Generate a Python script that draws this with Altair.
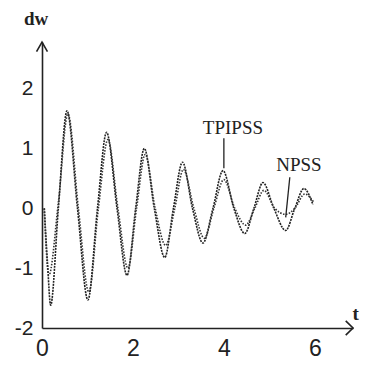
import altair as alt
import pandas as pd

# TPIPSS curve (key points)
t_a = [0.05, 0.12, 0.19, 0.36, 0.55, 0.78, 1.01, 1.22, 1.42, 1.65, 1.87, 2.06, 2.25, 2.47, 2.70, 2.89,
       3.09, 3.31, 3.54, 3.76, 3.98, 4.22, 4.46, 4.66, 4.86, 5.10, 5.36, 5.56, 5.76, 5.96]
y_a = [0.0, -0.9, -1.62, 0.0, 1.63, 0.0, -1.53, 0.0, 1.27, 0.0, -1.12, 0.0, 1.0, 0.0, -0.82, 0.0,
       0.77, 0.0, -0.58, 0.0, 0.63, 0.0, -0.42, 0.0, 0.43, 0.0, -0.37, 0.0, 0.33, 0.06]
# NPSS curve
t_b = [0.05, 0.15, 0.36, 0.57, 0.80, 1.03, 1.24, 1.45, 1.67, 1.89, 2.08, 2.27, 2.49, 2.72, 2.92,
       3.11, 3.34, 3.57, 3.78, 4.00, 4.24, 4.48, 4.68, 4.88, 5.12, 5.36, 5.56, 5.78, 5.98]
y_b = [0.0, -1.12, 0.1, 1.58, 0.0, -1.40, 0.0, 1.15, 0.0, -1.0, 0.0, 0.90, 0.0, -0.62, 0.0,
       0.65, 0.0, -0.50, 0.0, 0.48, 0.0, -0.28, 0.0, 0.30, 0.0, -0.10, 0.0, 0.24, 0.10]

x_ticks = [0, 2, 4, 6]
y_ticks = [-2, -1, 0, 1, 2]
x_max = 6.84
y_min, y_max = -2, 2.78

labels = ["TPIPSS", "NPSS"]
label_t = [4.2, 5.65]
label_y = [1.25, 0.63]
ptr_t1 = [4.0, 5.45]
ptr_y1 = [1.17, 0.52]
ptr_t2 = [4.0, 5.36]
ptr_y2 = [0.67, -0.15]

df_a = pd.DataFrame({"t": t_a, "y": y_a})
df_b = pd.DataFrame({"t": t_b, "y": y_b})
df_lab = pd.DataFrame({"label": labels, "t": label_t, "y": label_y})
df_ptr = pd.DataFrame({"t": ptr_t1, "y": ptr_y1, "t2": ptr_t2, "y2": ptr_y2})

# axis arrows as polylines: x arrow head, y arrow head
arr_grp = ["x", "x", "x", "y", "y", "y"]
arr_ord = [0, 1, 2, 0, 1, 2]
arr_t = [x_max - 0.16, x_max, x_max - 0.16, -0.12, 0.0, 0.12]
arr_y = [y_min + 0.12, y_min, y_min - 0.12, y_max - 0.16, y_max, y_max - 0.16]
df_arr = pd.DataFrame({"g": arr_grp, "o": arr_ord, "t": arr_t, "y": arr_y})

xs = alt.Scale(domain=[0, x_max], nice=False, zero=False)
ys = alt.Scale(domain=[y_min, y_max], nice=False, zero=False)

X = alt.X("t:Q", scale=xs, axis=alt.Axis(values=x_ticks, title=None, grid=False, ticks=False,
          domain=True, domainColor="#222222", domainWidth=1.6, zindex=1,
          labelFontSize=23, labelColor="#222", labelExpr="'' + datum.value",
          labelFont="Liberation Sans", labelPadding=9, labelFlush=False))
Y = alt.Y("y:Q", scale=ys, axis=alt.Axis(values=y_ticks, title=None, grid=False, ticks=False,
          domain=True, domainColor="#222222", domainWidth=1.6, zindex=1,
          labelFontSize=21, labelColor="#222", labelExpr="'' + datum.value",
          labelFont="Liberation Sans", labelPadding=9, labelFlush=False))

line_a = alt.Chart(df_a).mark_line(color="#222", strokeWidth=1.6, strokeDash=[2, 1],
                                   interpolate="monotone").encode(x=X, y=Y)
line_b = alt.Chart(df_b).mark_line(color="#333", strokeWidth=1.6, strokeDash=[1.5, 1.5],
                                   interpolate="monotone").encode(x="t:Q", y="y:Q")

arrows = alt.Chart(df_arr).mark_line(color="#222", strokeWidth=1.6).encode(
    x="t:Q", y="y:Q", detail="g:N", order="o:Q")

lab = alt.Chart(df_lab).mark_text(font="Liberation Serif", fontSize=19, color="#222",
                                  align="center", baseline="alphabetic").encode(
    x="t:Q", y="y:Q", text="label:N")
ptr = alt.Chart(df_ptr).mark_rule(color="#222", strokeWidth=1.3).encode(
    x="t:Q", y="y:Q", x2="t2:Q", y2="y2:Q")

df_ax = pd.DataFrame({"label": ["dw", "t"], "t": [-0.13, 6.9], "y": [3.07, -1.86]})
ax_lab = alt.Chart(df_ax).mark_text(font="Liberation Serif", fontSize=19, fontWeight="bold",
                                    color="#222", align="center", baseline="alphabetic").encode(
    x="t:Q", y="y:Q", text="label:N")

chart = alt.layer(line_a, line_b, arrows, ptr, lab, ax_lab).properties(
    width=311, height=286,
    autosize=alt.AutoSizeParams(type="none"),
    padding={"left": 34, "top": 34, "right": 10, "bottom": 33},
).configure_view(stroke=None)

chart.save("out.html", embed_options={"renderer": "svg", "actions": False})
